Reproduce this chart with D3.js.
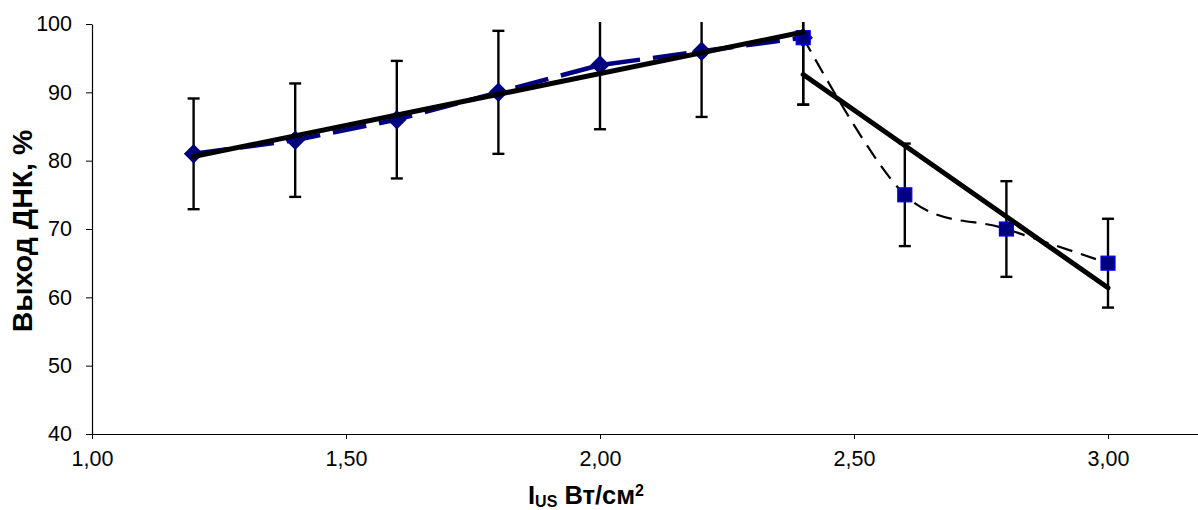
<!DOCTYPE html>
<html>
<head>
<meta charset="utf-8">
<script src="https://cdn.jsdelivr.net/npm/d3@7"></script>
<style>
  body { margin: 0; background: #fff; }
  svg { display: block; }
  text { font-family: Arial, "Liberation Sans", sans-serif; fill: #000; }
</style>
</head>
<body>
<svg id="chart" width="1198" height="510"></svg>
<script>
// Ultrasound intensity (W/cm²) and DNA yield (%)
const intensityRise = [1.2, 1.4, 1.6, 1.8, 2.0, 2.2, 2.4];
const yieldRise     = [81, 83, 86, 90, 94, 96, 98];
const errRise       = [8.1, 8.3, 8.6, 9.0, 9.4, 9.6, 9.8];

const intensityFall = [2.4, 2.6, 2.8, 3.0];
const yieldFall     = [98, 75, 70, 65];
const errFall       = [9.8, 7.5, 7.0, 6.5];

const xTicks = [1.0, 1.5, 2.0, 2.5, 3.0];
const yTicks = [40, 50, 60, 70, 80, 90, 100];

const svg = d3.select("#chart");
const W = 1198;

const x = d3.scaleLinear().domain([1, 3]).range([92, 1108]);
const y = d3.scaleLinear().domain([40, 100]).range([434, 24]);

const rise = intensityRise.map((v, i) => ({ x: v, y: yieldRise[i], e: errRise[i] }));
const fall = intensityFall.map((v, i) => ({ x: v, y: yieldFall[i], e: errFall[i] }));

// least-squares line through a set of points
function linFit(pts) {
  const mx = d3.mean(pts, d => d.x), my = d3.mean(pts, d => d.y);
  const sxy = d3.sum(pts, d => (d.x - mx) * (d.y - my));
  const sxx = d3.sum(pts, d => (d.x - mx) ** 2);
  const b = sxy / sxx, a = my - b * mx;
  const x0 = d3.min(pts, d => d.x), x1 = d3.max(pts, d => d.x);
  return [{ x: x0, y: a + b * x0 }, { x: x1, y: a + b * x1 }];
}

svg.append("defs").append("clipPath").attr("id", "plotClip")
  .append("rect").attr("x", 0).attr("y", 22).attr("width", W).attr("height", 420);

// axes
const fmt = d => d3.format(".2f")(d).replace(".", ",");
const xAxis = svg.append("g").attr("transform", "translate(0,434)")
  .call(d3.axisBottom(x).tickValues(xTicks).tickFormat(fmt).tickSize(5).tickPadding(12).tickSizeOuter(0));
xAxis.select(".domain").remove();
xAxis.selectAll("line").attr("stroke", "#000").attr("stroke-width", 1);
xAxis.selectAll("text").attr("font-size", 21.5).attr("fill", "#000");
svg.append("line").attr("x1", 92).attr("x2", W).attr("y1", 434.5).attr("y2", 434.5)
  .attr("stroke", "#000").attr("stroke-width", 1.2);

const yAxis = svg.append("g").attr("transform", "translate(92,0)")
  .call(d3.axisLeft(y).tickValues(yTicks).tickSize(6).tickPadding(14).tickSizeOuter(0));
yAxis.select(".domain").attr("stroke", "#000").attr("stroke-width", 1.2);
yAxis.selectAll("line").attr("stroke", "#000").attr("stroke-width", 1);
yAxis.selectAll("text").attr("font-size", 21.5).attr("fill", "#000");

// axis titles
const xt = svg.append("text").attr("x", 586).attr("y", 504).attr("text-anchor", "middle")
  .attr("font-size", 25.5).attr("font-weight", "bold");
xt.append("tspan").text("I");
xt.append("tspan").attr("font-size", 16).attr("dy", 2.5).text("US");
xt.append("tspan").attr("dy", -2.5).text(" Вт/см");
xt.append("tspan").attr("font-size", 16).attr("dy", -8).text("2");

svg.append("text").attr("transform", "translate(32,231) rotate(-90)")
  .attr("text-anchor", "middle").attr("font-size", 28.5).attr("font-weight", "bold")
  .text("Выход ДНК, %");

const plot = svg.append("g").attr("clip-path", "url(#plotClip)");

// error bars
function errorBars(data) {
  const g = plot.append("g").attr("stroke", "#000").attr("stroke-width", 2.4);
  data.forEach(d => {
    const cx = x(d.x);
    g.append("line").attr("x1", cx).attr("x2", cx).attr("y1", y(d.y - d.e)).attr("y2", y(d.y + d.e));
    g.append("line").attr("x1", cx - 6).attr("x2", cx + 6).attr("y1", y(d.y - d.e)).attr("y2", y(d.y - d.e));
    g.append("line").attr("x1", cx - 6).attr("x2", cx + 6).attr("y1", y(d.y + d.e)).attr("y2", y(d.y + d.e));
  });
}
errorBars(rise);
errorBars(fall);

// series lines
plot.append("path").datum(rise)
  .attr("d", d3.line().x(d => x(d.x)).y(d => y(d.y)))
  .attr("fill", "none").attr("stroke", "#000080").attr("stroke-width", 4.5)
  .attr("stroke-dasharray", "34,13");

plot.append("path").datum(fall)
  .attr("d", d3.line().x(d => x(d.x)).y(d => y(d.y)).curve(d3.curveCatmullRom.alpha(0)))
  .attr("fill", "none").attr("stroke", "#000").attr("stroke-width", 2.2)
  .attr("stroke-dasharray", "16,9");

// markers
const diamond = d3.symbol().type(d3.symbolSquare).size(190);
plot.append("g").selectAll("path").data(rise).join("path")
  .attr("d", diamond)
  .attr("transform", d => `translate(${x(d.x)},${y(d.y)}) rotate(45)`)
  .attr("fill", "#000080");

plot.append("g").selectAll("rect").data(fall).join("rect")
  .attr("x", d => x(d.x) - 7).attr("y", d => y(d.y) - 7)
  .attr("width", 14).attr("height", 14)
  .attr("fill", "#000080").attr("stroke", "#0000ff").attr("stroke-width", 1.2);

// linear trend lines
const trendLine = d3.line().x(d => x(d.x)).y(d => y(d.y));
[linFit(rise), linFit(fall)].forEach(t => {
  plot.append("path").datum(t).attr("d", trendLine)
    .attr("fill", "none").attr("stroke", "#000").attr("stroke-width", 5)
    .attr("stroke-linecap", "round");
});
</script>
</body>
</html>
